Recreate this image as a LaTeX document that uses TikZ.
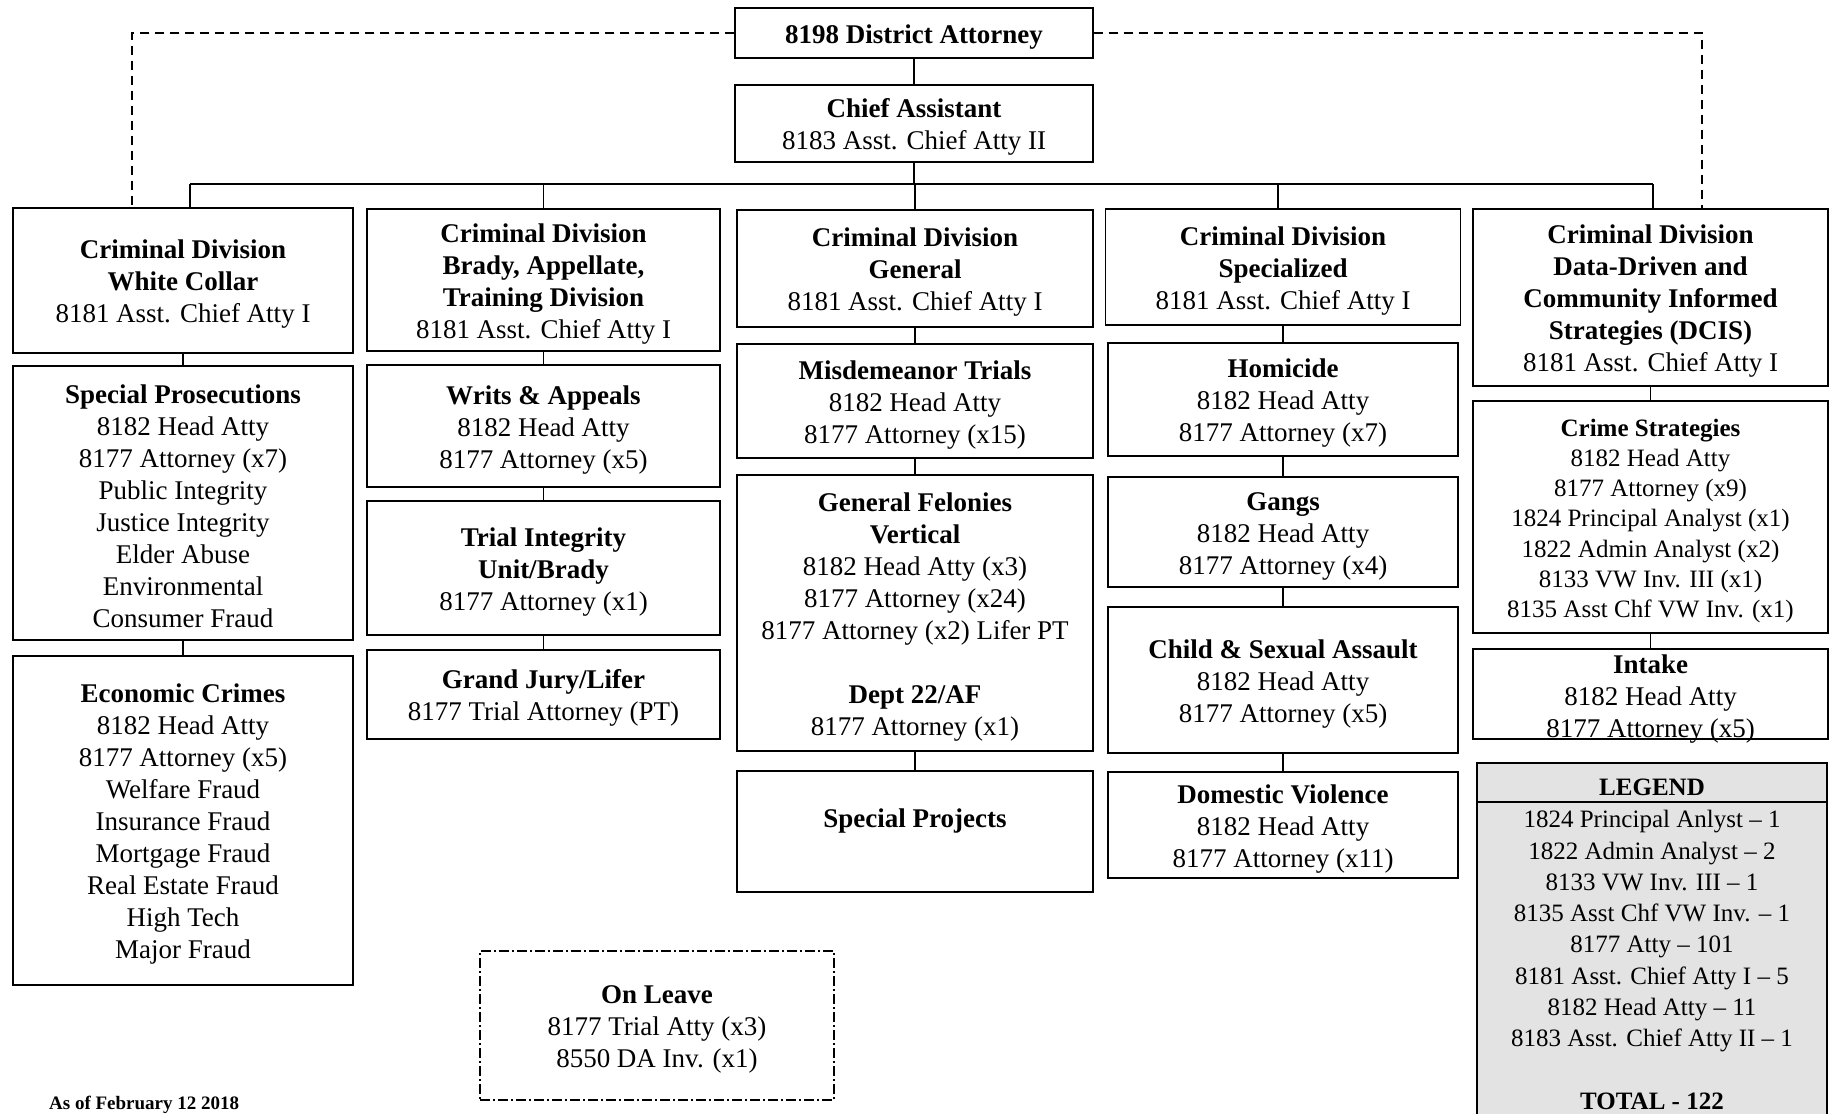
\documentclass[tikz,border=0pt]{standalone}
\usepackage{fontspec}
\setmainfont{Liberation Serif}
\newcommand{\orgstrut}{\rule{0pt}{26pt}}
\begin{document}
\begin{tikzpicture}[x=1pt,y=-1pt]
\tikzset{
 orgbox/.style={draw, line width=1.4pt, align=center, inner sep=2pt, fill=white,
   font=\fontsize{27}{32}\selectfont},
 smallbox/.style={orgbox, font=\fontsize{25}{30.2}\selectfont},
 link/.style={line width=1.4pt},
 buslink/.style={line width=2.4pt},
 dashlink/.style={line width=1.8pt, dash pattern=on 9pt off 6pt},
 leavebox/.style={orgbox, dash pattern=on 10pt off 3pt on 2pt off 3pt},
}
\useasboundingbox (0,0) rectangle (1834,1114);
\fill[white] (0,0) rectangle (1834,1114);

% top
\node[orgbox, minimum width=358pt, minimum height=50pt] (da) at (914,33) {\orgstrut\textbf{8198 District Attorney}};
\node[orgbox, minimum width=358pt, minimum height=77pt] (chief) at (914,123.5) {\orgstrut\textbf{Chief Assistant}\\8183 Asst. Chief Atty II};

% column 1
\node[orgbox, minimum width=340pt, minimum height=145pt] (wc) at (183,280.5) {\orgstrut\textbf{Criminal Division}\\\textbf{White Collar}\\8181 Asst. Chief Atty I};
\node[orgbox, minimum width=340pt, minimum height=274pt] (sp) at (183,503) {\orgstrut\textbf{Special Prosecutions}\\8182 Head Atty\\8177 Attorney (x7)\\Public Integrity\\Justice Integrity\\Elder Abuse\\Environmental\\Consumer Fraud};
\node[orgbox, minimum width=340pt, minimum height=329pt] (ec) at (183,820.5) {\orgstrut\textbf{Economic Crimes}\\8182 Head Atty\\8177 Attorney (x5)\\Welfare Fraud\\Insurance Fraud\\Mortgage Fraud\\Real Estate Fraud\\High Tech\\Major Fraud};

% column 2
\node[orgbox, minimum width=353pt, minimum height=142pt] (brady) at (543.5,280) {\orgstrut\textbf{Criminal Division}\\\textbf{Brady, Appellate,}\\\textbf{Training Division}\\8181 Asst. Chief Atty I};
\node[orgbox, minimum width=353pt, minimum height=122pt] (wa) at (543.5,426) {\orgstrut\textbf{Writs \& Appeals}\\8182 Head Atty\\8177 Attorney (x5)};
\node[orgbox, minimum width=353pt, minimum height=134pt] (ti) at (543.5,568) {\orgstrut\textbf{Trial Integrity}\\\textbf{Unit/Brady}\\8177 Attorney (x1)};
\node[orgbox, minimum width=353pt, minimum height=89pt] (gj) at (543.5,694.5) {\orgstrut\textbf{Grand Jury/Lifer}\\8177 Trial Attorney (PT)};

% column 3
\node[orgbox, minimum width=356pt, minimum height=117pt] (gen) at (915,268.5) {\orgstrut\textbf{Criminal Division}\\\textbf{General}\\8181 Asst. Chief Atty I};
\node[orgbox, minimum width=356pt, minimum height=114pt] (mis) at (915,401) {\orgstrut\textbf{Misdemeanor Trials}\\8182 Head Atty\\8177 Attorney (x15)};
\node[orgbox, minimum width=356pt, minimum height=276pt] (gf) at (915,613) {\orgstrut\textbf{General Felonies}\\\textbf{Vertical}\\8182 Head Atty (x3)\\8177 Attorney (x24)\\8177 Attorney (x2) Lifer PT\\[32pt]\textbf{Dept 22/AF}\\8177 Attorney (x1)};
\node[orgbox, minimum width=356pt, minimum height=121pt] (spj) at (915,831.5) {\orgstrut\textbf{Special Projects}\\[2pt]~};

% column 4
\node[orgbox, minimum width=355pt, minimum height=116pt] (spec) at (1283,267) {\orgstrut\textbf{Criminal Division}\\\textbf{Specialized}\\8181 Asst. Chief Atty I};
\node[orgbox, minimum width=350pt, minimum height=113pt] (hom) at (1283,399.5) {\orgstrut\textbf{Homicide}\\8182 Head Atty\\8177 Attorney (x7)};
\node[orgbox, minimum width=350pt, minimum height=110pt] (gangs) at (1283,532) {\orgstrut\textbf{Gangs}\\8182 Head Atty\\8177 Attorney (x4)};
\node[orgbox, minimum width=350pt, minimum height=146pt] (csa) at (1283,680) {\orgstrut\textbf{Child \& Sexual Assault}\\8182 Head Atty\\8177 Attorney (x5)};
\node[orgbox, minimum width=350pt, minimum height=106pt] (dv) at (1283,825) {\orgstrut\textbf{Domestic Violence}\\8182 Head Atty\\8177 Attorney (x11)};

% column 5
\node[orgbox, minimum width=355pt, minimum height=177pt] (dcis) at (1650.5,297.5) {\orgstrut\textbf{Criminal Division}\\\textbf{Data-Driven and}\\\textbf{Community Informed}\\\textbf{Strategies (DCIS)}\\8181 Asst. Chief Atty I};
\node[smallbox, minimum width=355pt, minimum height=232pt] (cs) at (1650.5,517) {\rule{0pt}{25pt}\textbf{Crime Strategies}\\8182 Head Atty\\8177 Attorney (x9)\\1824 Principal Analyst (x1)\\1822 Admin Analyst (x2)\\8133 VW Inv. III (x1)\\8135 Asst Chf VW Inv. (x1)};
\node[orgbox, inner ysep=0pt, minimum width=355pt, minimum height=90pt] (intake) at (1650.5,694) {\rule{0pt}{23pt}\textbf{Intake}\\8182 Head Atty\\\smash{8177 Attorney (x5)}};

% legend
\fill[black!11] (1477,763) rectangle (1827,1114);
\draw[link] (1477,1114) -- (1477,763) -- (1827,763) -- (1827,1114);
\draw[link] (1477,802) -- (1827,802);
\node[font=\bfseries\fontsize{25}{30}\selectfont] (leghead) at (1652,787.5) {LEGEND};
\node[align=center, font=\fontsize{25}{31.3}\selectfont] (legbody) at (1652,960) {1824 Principal Anlyst -- 1\\1822 Admin Analyst -- 2\\8133 VW Inv. III -- 1\\8135 Asst Chf VW Inv. -- 1\\8177 Atty -- 101\\8181 Asst. Chief Atty I -- 5\\8182 Head Atty -- 11\\8183 Asst. Chief Atty II -- 1\\[31.3pt]\textbf{TOTAL - 122}};

% on leave and date
\node[leavebox, minimum width=354pt, minimum height=149pt] (leave) at (657,1025.5) {\orgstrut\textbf{On Leave}\\8177 Trial Atty (x3)\\8550 DA Inv. (x1)};
\node[anchor=west, inner sep=0pt, font=\bfseries\fontsize{19}{22}\selectfont] (asof) at (49,1105) {As of February 12 2018};

% connectors
\draw[link] (da.south) -- (chief.north);
\coordinate (busL) at (190,184);
\coordinate (busR) at (1653,184);
\coordinate (dropS) at (1278,184);
\draw[buslink] (busL) -- (busR);
\draw[link] (chief.south) -- (chief.south |- busL);
\draw[link] (busL) -- (busL |- wc.north);
\draw[link] (brady.north |- busL) -- (brady.north);
\draw[link] (gen.north |- busL) -- (gen.north);
\draw[link] (dropS) -- (dropS |- spec.north);
\draw[link] (busR) -- (busR |- dcis.north);

\coordinate (dashL) at (132,33);
\coordinate (dashR) at (1702,33);
\draw[dashlink] (da.west) -- (dashL) -- (dashL |- wc.north);
\draw[dashlink] (da.east) -- (dashR) -- (dashR |- dcis.north);

\draw[link] (wc.south) -- (sp.north);
\draw[link] (sp.south) -- (ec.north);
\draw[link] (brady.south) -- (wa.north);
\draw[link] (wa.south) -- (ti.north);
\draw[link] (ti.south) -- (gj.north);
\draw[link] (gen.south) -- (mis.north);
\draw[link] (mis.south) -- (gf.north);
\draw[link] (gf.south) -- (spj.north);
\draw[link] (spec.south) -- (hom.north);
\draw[link] (hom.south) -- (gangs.north);
\draw[link] (gangs.south) -- (csa.north);
\draw[link] (csa.south) -- (dv.north);
\draw[link] (dcis.south) -- (cs.north);
\draw[link] (cs.south) -- (intake.north);
\end{tikzpicture}
\end{document}
